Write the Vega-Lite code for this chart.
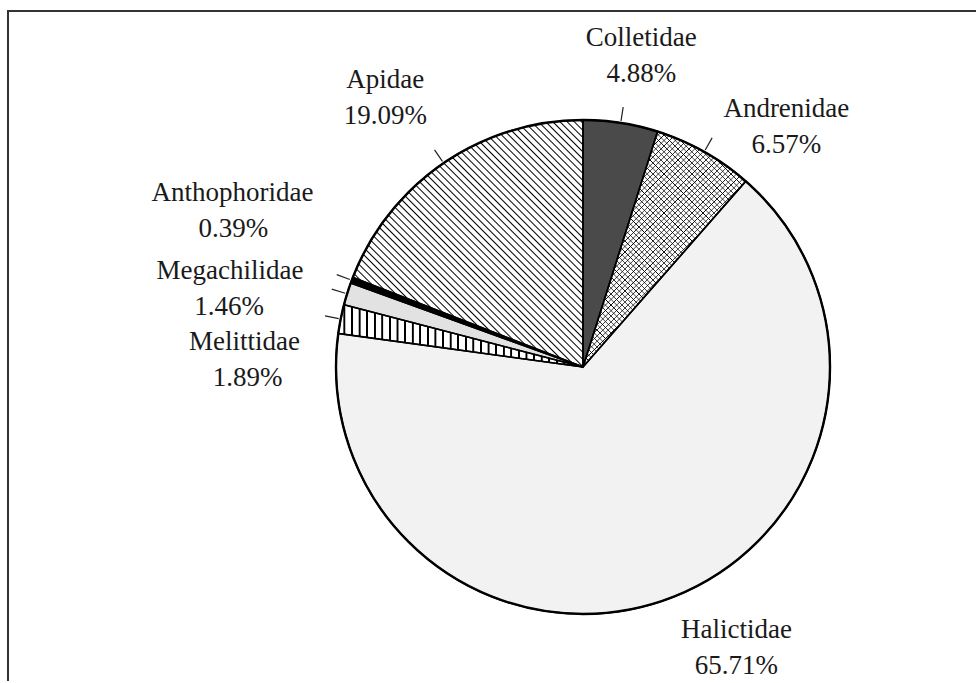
{
  "$schema": "https://vega.github.io/schema/vega-lite/v6.json",
  "width": 968,
  "height": 672,
  "autosize": "none",
  "padding": {"left": 8, "top": 11, "right": 0, "bottom": 0},
  "background": "white",
  "config": {"view": {"stroke": null}},
  "data": {"values": [
    {"Family": "Colletidae", "pct": 0.0488, "rank": 1},
    {"Family": "Andrenidae", "pct": 0.0657, "rank": 2},
    {"Family": "Halictidae", "pct": 0.6571, "rank": 3},
    {"Family": "Melittidae", "pct": 0.0189, "rank": 4},
    {"Family": "Megachilidae", "pct": 0.0146, "rank": 5},
    {"Family": "Anthophoridae", "pct": 0.0039, "rank": 6},
    {"Family": "Apidae", "pct": 0.1909, "rank": 7}
  ]},
  "layer": [
    {
      "transform": [{"filter": "datum.rank === 1"}],
      "mark": {"type": "rect", "fill": "white", "fillOpacity": 0, "stroke": "#333333", "strokeWidth": 2, "strokeDash": [968, 1642, 800]},
      "encoding": {}
    },
    {
      "mark": {"type": "arc", "outerRadius": 247, "strokeWidth": 0, "xOffset": 91, "yOffset": 20},
      "encoding": {
        "theta": {"field": "pct", "type": "quantitative", "stack": true},
        "order": {"field": "rank", "type": "quantitative"},
        "color": {
          "field": "Family", "type": "nominal", "legend": null,
          "scale": {
            "domain": ["Colletidae", "Andrenidae", "Halictidae", "Melittidae", "Megachilidae", "Anthophoridae", "Apidae"],
            "range": ["#4a4a4a", "#ffffff", "#f2f2f2", "#ffffff", "#e2e2e2", "#000000", "#ffffff"]
          }
        }
      }
    },
    {
      "mark": {
        "type": "arc", "outerRadius": 247, "strokeWidth": 0, "xOffset": 91, "yOffset": 20,
        "fill": {"gradient": "linear", "x1": 0, "y1": 1, "x2": 0.9636, "y2": -0.034, "stops": [
          {"offset": 0, "color": "#fff"}, {"offset": 0.003, "color": "#000"}, {"offset": 0.006, "color": "#fff"},
          {"offset": 0.015, "color": "#fff"}, {"offset": 0.018, "color": "#000"}, {"offset": 0.021, "color": "#fff"},
          {"offset": 0.03, "color": "#fff"}, {"offset": 0.033, "color": "#000"}, {"offset": 0.036, "color": "#fff"},
          {"offset": 0.045, "color": "#fff"}, {"offset": 0.048, "color": "#000"}, {"offset": 0.051, "color": "#fff"},
          {"offset": 0.06, "color": "#fff"}, {"offset": 0.063, "color": "#000"}, {"offset": 0.066, "color": "#fff"},
          {"offset": 0.075, "color": "#fff"}, {"offset": 0.078, "color": "#000"}, {"offset": 0.081, "color": "#fff"},
          {"offset": 0.09, "color": "#fff"}, {"offset": 0.093, "color": "#000"}, {"offset": 0.096, "color": "#fff"},
          {"offset": 0.105, "color": "#fff"}, {"offset": 0.108, "color": "#000"}, {"offset": 0.111, "color": "#fff"},
          {"offset": 0.12, "color": "#fff"}, {"offset": 0.123, "color": "#000"}, {"offset": 0.126, "color": "#fff"},
          {"offset": 0.135, "color": "#fff"}, {"offset": 0.138, "color": "#000"}, {"offset": 0.141, "color": "#fff"},
          {"offset": 0.15, "color": "#fff"}, {"offset": 0.153, "color": "#000"}, {"offset": 0.156, "color": "#fff"},
          {"offset": 0.165, "color": "#fff"}, {"offset": 0.168, "color": "#000"}, {"offset": 0.171, "color": "#fff"},
          {"offset": 0.18, "color": "#fff"}, {"offset": 0.183, "color": "#000"}, {"offset": 0.186, "color": "#fff"},
          {"offset": 0.195, "color": "#fff"}, {"offset": 0.198, "color": "#000"}, {"offset": 0.201, "color": "#fff"},
          {"offset": 0.21, "color": "#fff"}, {"offset": 0.213, "color": "#000"}, {"offset": 0.216, "color": "#fff"},
          {"offset": 0.225, "color": "#fff"}, {"offset": 0.228, "color": "#000"}, {"offset": 0.231, "color": "#fff"},
          {"offset": 0.24, "color": "#fff"}, {"offset": 0.243, "color": "#000"}, {"offset": 0.246, "color": "#fff"},
          {"offset": 0.255, "color": "#fff"}, {"offset": 0.258, "color": "#000"}, {"offset": 0.261, "color": "#fff"},
          {"offset": 0.27, "color": "#fff"}, {"offset": 0.273, "color": "#000"}, {"offset": 0.276, "color": "#fff"},
          {"offset": 0.285, "color": "#fff"}, {"offset": 0.288, "color": "#000"}, {"offset": 0.291, "color": "#fff"},
          {"offset": 0.3, "color": "#fff"}, {"offset": 0.303, "color": "#000"}, {"offset": 0.306, "color": "#fff"},
          {"offset": 0.315, "color": "#fff"}, {"offset": 0.318, "color": "#000"}, {"offset": 0.321, "color": "#fff"},
          {"offset": 0.33, "color": "#fff"}, {"offset": 0.333, "color": "#000"}, {"offset": 0.336, "color": "#fff"},
          {"offset": 0.345, "color": "#fff"}, {"offset": 0.348, "color": "#000"}, {"offset": 0.351, "color": "#fff"},
          {"offset": 0.36, "color": "#fff"}, {"offset": 0.363, "color": "#000"}, {"offset": 0.366, "color": "#fff"},
          {"offset": 0.375, "color": "#fff"}, {"offset": 0.378, "color": "#000"}, {"offset": 0.381, "color": "#fff"},
          {"offset": 0.39, "color": "#fff"}, {"offset": 0.393, "color": "#000"}, {"offset": 0.396, "color": "#fff"},
          {"offset": 0.405, "color": "#fff"}, {"offset": 0.408, "color": "#000"}, {"offset": 0.411, "color": "#fff"},
          {"offset": 0.42, "color": "#fff"}, {"offset": 0.423, "color": "#000"}, {"offset": 0.426, "color": "#fff"},
          {"offset": 0.435, "color": "#fff"}, {"offset": 0.438, "color": "#000"}, {"offset": 0.441, "color": "#fff"},
          {"offset": 0.45, "color": "#fff"}, {"offset": 0.453, "color": "#000"}, {"offset": 0.456, "color": "#fff"},
          {"offset": 0.465, "color": "#fff"}, {"offset": 0.468, "color": "#000"}, {"offset": 0.471, "color": "#fff"},
          {"offset": 0.48, "color": "#fff"}, {"offset": 0.483, "color": "#000"}, {"offset": 0.486, "color": "#fff"},
          {"offset": 0.495, "color": "#fff"}, {"offset": 0.498, "color": "#000"}, {"offset": 0.501, "color": "#fff"},
          {"offset": 0.51, "color": "#fff"}, {"offset": 0.513, "color": "#000"}, {"offset": 0.516, "color": "#fff"},
          {"offset": 0.525, "color": "#fff"}, {"offset": 0.528, "color": "#000"}, {"offset": 0.531, "color": "#fff"},
          {"offset": 0.54, "color": "#fff"}, {"offset": 0.543, "color": "#000"}, {"offset": 0.546, "color": "#fff"},
          {"offset": 0.555, "color": "#fff"}, {"offset": 0.558, "color": "#000"}, {"offset": 0.561, "color": "#fff"},
          {"offset": 0.57, "color": "#fff"}, {"offset": 0.573, "color": "#000"}, {"offset": 0.576, "color": "#fff"},
          {"offset": 0.585, "color": "#fff"}, {"offset": 0.588, "color": "#000"}, {"offset": 0.591, "color": "#fff"},
          {"offset": 0.6, "color": "#fff"}, {"offset": 0.603, "color": "#000"}, {"offset": 0.606, "color": "#fff"},
          {"offset": 0.615, "color": "#fff"}, {"offset": 0.618, "color": "#000"}, {"offset": 0.621, "color": "#fff"},
          {"offset": 0.63, "color": "#fff"}, {"offset": 0.633, "color": "#000"}, {"offset": 0.636, "color": "#fff"},
          {"offset": 0.645, "color": "#fff"}, {"offset": 0.648, "color": "#000"}, {"offset": 0.651, "color": "#fff"},
          {"offset": 0.66, "color": "#fff"}, {"offset": 0.663, "color": "#000"}, {"offset": 0.666, "color": "#fff"},
          {"offset": 0.675, "color": "#fff"}, {"offset": 0.678, "color": "#000"}, {"offset": 0.681, "color": "#fff"},
          {"offset": 0.69, "color": "#fff"}, {"offset": 0.693, "color": "#000"}, {"offset": 0.696, "color": "#fff"},
          {"offset": 0.705, "color": "#fff"}, {"offset": 0.708, "color": "#000"}, {"offset": 0.711, "color": "#fff"},
          {"offset": 0.72, "color": "#fff"}, {"offset": 0.723, "color": "#000"}, {"offset": 0.726, "color": "#fff"},
          {"offset": 0.735, "color": "#fff"}, {"offset": 0.738, "color": "#000"}, {"offset": 0.741, "color": "#fff"},
          {"offset": 0.75, "color": "#fff"}, {"offset": 0.753, "color": "#000"}, {"offset": 0.756, "color": "#fff"},
          {"offset": 0.765, "color": "#fff"}, {"offset": 0.768, "color": "#000"}, {"offset": 0.771, "color": "#fff"},
          {"offset": 0.78, "color": "#fff"}, {"offset": 0.783, "color": "#000"}, {"offset": 0.786, "color": "#fff"},
          {"offset": 0.795, "color": "#fff"}, {"offset": 0.798, "color": "#000"}, {"offset": 0.801, "color": "#fff"},
          {"offset": 0.81, "color": "#fff"}, {"offset": 0.813, "color": "#000"}, {"offset": 0.816, "color": "#fff"},
          {"offset": 0.825, "color": "#fff"}, {"offset": 0.828, "color": "#000"}, {"offset": 0.831, "color": "#fff"},
          {"offset": 0.84, "color": "#fff"}, {"offset": 0.843, "color": "#000"}, {"offset": 0.846, "color": "#fff"},
          {"offset": 0.855, "color": "#fff"}, {"offset": 0.858, "color": "#000"}, {"offset": 0.861, "color": "#fff"},
          {"offset": 0.87, "color": "#fff"}, {"offset": 0.873, "color": "#000"}, {"offset": 0.876, "color": "#fff"},
          {"offset": 0.885, "color": "#fff"}, {"offset": 0.888, "color": "#000"}, {"offset": 0.891, "color": "#fff"},
          {"offset": 0.9, "color": "#fff"}, {"offset": 0.903, "color": "#000"}, {"offset": 0.906, "color": "#fff"},
          {"offset": 0.915, "color": "#fff"}, {"offset": 0.918, "color": "#000"}, {"offset": 0.921, "color": "#fff"},
          {"offset": 0.93, "color": "#fff"}, {"offset": 0.933, "color": "#000"}, {"offset": 0.936, "color": "#fff"},
          {"offset": 0.945, "color": "#fff"}, {"offset": 0.948, "color": "#000"}, {"offset": 0.951, "color": "#fff"},
          {"offset": 0.96, "color": "#fff"}, {"offset": 0.963, "color": "#000"}, {"offset": 0.966, "color": "#fff"},
          {"offset": 0.975, "color": "#fff"}, {"offset": 0.978, "color": "#000"}, {"offset": 0.981, "color": "#fff"},
          {"offset": 0.99, "color": "#fff"}, {"offset": 0.993, "color": "#000"}, {"offset": 0.996, "color": "#fff"},
          {"offset": 1, "color": "#fff"}
        ]}
      },
      "encoding": {
        "theta": {"field": "pct", "type": "quantitative", "stack": true},
        "order": {"field": "rank", "type": "quantitative"},
        "opacity": {"condition": {"test": "datum.Family === 'Apidae'", "value": 1}, "value": 0}
      }
    },
    {
      "mark": {
        "type": "arc", "outerRadius": 247, "strokeWidth": 0, "xOffset": 91, "yOffset": 20,
        "fill": {"gradient": "linear", "x1": 0, "y1": 0, "x2": 1, "y2": 0, "stops": [
          {"offset": 0, "color": "#fff"},
          {"offset": 0.02, "color": "#fff"}, {"offset": 0.022, "color": "#000"}, {"offset": 0.028, "color": "#000"}, {"offset": 0.03, "color": "#fff"},
          {"offset": 0.051, "color": "#fff"}, {"offset": 0.053, "color": "#000"}, {"offset": 0.059, "color": "#000"}, {"offset": 0.061, "color": "#fff"},
          {"offset": 0.082, "color": "#fff"}, {"offset": 0.084, "color": "#000"}, {"offset": 0.09, "color": "#000"}, {"offset": 0.092, "color": "#fff"},
          {"offset": 0.113, "color": "#fff"}, {"offset": 0.115, "color": "#000"}, {"offset": 0.121, "color": "#000"}, {"offset": 0.123, "color": "#fff"},
          {"offset": 0.144, "color": "#fff"}, {"offset": 0.146, "color": "#000"}, {"offset": 0.152, "color": "#000"}, {"offset": 0.154, "color": "#fff"},
          {"offset": 0.175, "color": "#fff"}, {"offset": 0.177, "color": "#000"}, {"offset": 0.183, "color": "#000"}, {"offset": 0.185, "color": "#fff"},
          {"offset": 0.206, "color": "#fff"}, {"offset": 0.208, "color": "#000"}, {"offset": 0.214, "color": "#000"}, {"offset": 0.216, "color": "#fff"},
          {"offset": 0.237, "color": "#fff"}, {"offset": 0.239, "color": "#000"}, {"offset": 0.245, "color": "#000"}, {"offset": 0.247, "color": "#fff"},
          {"offset": 0.268, "color": "#fff"}, {"offset": 0.27, "color": "#000"}, {"offset": 0.276, "color": "#000"}, {"offset": 0.278, "color": "#fff"},
          {"offset": 0.299, "color": "#fff"}, {"offset": 0.301, "color": "#000"}, {"offset": 0.307, "color": "#000"}, {"offset": 0.309, "color": "#fff"},
          {"offset": 0.33, "color": "#fff"}, {"offset": 0.332, "color": "#000"}, {"offset": 0.338, "color": "#000"}, {"offset": 0.34, "color": "#fff"},
          {"offset": 0.361, "color": "#fff"}, {"offset": 0.363, "color": "#000"}, {"offset": 0.369, "color": "#000"}, {"offset": 0.371, "color": "#fff"},
          {"offset": 0.392, "color": "#fff"}, {"offset": 0.394, "color": "#000"}, {"offset": 0.4, "color": "#000"}, {"offset": 0.402, "color": "#fff"},
          {"offset": 0.423, "color": "#fff"}, {"offset": 0.425, "color": "#000"}, {"offset": 0.431, "color": "#000"}, {"offset": 0.433, "color": "#fff"},
          {"offset": 0.454, "color": "#fff"}, {"offset": 0.456, "color": "#000"}, {"offset": 0.462, "color": "#000"}, {"offset": 0.464, "color": "#fff"},
          {"offset": 0.485, "color": "#fff"}, {"offset": 0.487, "color": "#000"}, {"offset": 0.493, "color": "#000"}, {"offset": 0.495, "color": "#fff"},
          {"offset": 0.516, "color": "#fff"}, {"offset": 0.518, "color": "#000"}, {"offset": 0.524, "color": "#000"}, {"offset": 0.526, "color": "#fff"},
          {"offset": 0.547, "color": "#fff"}, {"offset": 0.549, "color": "#000"}, {"offset": 0.555, "color": "#000"}, {"offset": 0.557, "color": "#fff"},
          {"offset": 0.578, "color": "#fff"}, {"offset": 0.58, "color": "#000"}, {"offset": 0.586, "color": "#000"}, {"offset": 0.588, "color": "#fff"},
          {"offset": 0.609, "color": "#fff"}, {"offset": 0.611, "color": "#000"}, {"offset": 0.617, "color": "#000"}, {"offset": 0.619, "color": "#fff"},
          {"offset": 0.64, "color": "#fff"}, {"offset": 0.642, "color": "#000"}, {"offset": 0.648, "color": "#000"}, {"offset": 0.65, "color": "#fff"},
          {"offset": 0.671, "color": "#fff"}, {"offset": 0.673, "color": "#000"}, {"offset": 0.679, "color": "#000"}, {"offset": 0.681, "color": "#fff"},
          {"offset": 0.702, "color": "#fff"}, {"offset": 0.704, "color": "#000"}, {"offset": 0.71, "color": "#000"}, {"offset": 0.712, "color": "#fff"},
          {"offset": 0.733, "color": "#fff"}, {"offset": 0.735, "color": "#000"}, {"offset": 0.741, "color": "#000"}, {"offset": 0.743, "color": "#fff"},
          {"offset": 0.764, "color": "#fff"}, {"offset": 0.766, "color": "#000"}, {"offset": 0.772, "color": "#000"}, {"offset": 0.774, "color": "#fff"},
          {"offset": 0.795, "color": "#fff"}, {"offset": 0.797, "color": "#000"}, {"offset": 0.803, "color": "#000"}, {"offset": 0.805, "color": "#fff"},
          {"offset": 0.826, "color": "#fff"}, {"offset": 0.828, "color": "#000"}, {"offset": 0.834, "color": "#000"}, {"offset": 0.836, "color": "#fff"},
          {"offset": 0.857, "color": "#fff"}, {"offset": 0.859, "color": "#000"}, {"offset": 0.865, "color": "#000"}, {"offset": 0.867, "color": "#fff"},
          {"offset": 0.888, "color": "#fff"}, {"offset": 0.89, "color": "#000"}, {"offset": 0.896, "color": "#000"}, {"offset": 0.898, "color": "#fff"},
          {"offset": 0.919, "color": "#fff"}, {"offset": 0.921, "color": "#000"}, {"offset": 0.927, "color": "#000"}, {"offset": 0.929, "color": "#fff"},
          {"offset": 0.95, "color": "#fff"}, {"offset": 0.952, "color": "#000"}, {"offset": 0.958, "color": "#000"}, {"offset": 0.96, "color": "#fff"},
          {"offset": 0.981, "color": "#fff"}, {"offset": 0.983, "color": "#000"}, {"offset": 0.989, "color": "#000"}, {"offset": 0.991, "color": "#fff"},
          {"offset": 1, "color": "#fff"}
        ]}
      },
      "encoding": {
        "theta": {"field": "pct", "type": "quantitative", "stack": true},
        "order": {"field": "rank", "type": "quantitative"},
        "opacity": {"condition": {"test": "datum.Family === 'Melittidae'", "value": 1}, "value": 0}
      }
    },
    {
      "mark": {
        "type": "arc", "outerRadius": 247, "strokeWidth": 0, "xOffset": 91, "yOffset": 20,
        "fill": {"gradient": "linear", "x1": 0, "y1": 1, "x2": 0.7912, "y2": -0.1445, "stops": [
          {"offset": 0, "color": "rgba(0,0,0,0)"}, {"offset": 0.002, "color": "rgba(0,0,0,1)"}, {"offset": 0.004, "color": "rgba(0,0,0,0)"},
          {"offset": 0.014, "color": "rgba(0,0,0,0)"}, {"offset": 0.016, "color": "rgba(0,0,0,1)"}, {"offset": 0.018, "color": "rgba(0,0,0,0)"},
          {"offset": 0.028, "color": "rgba(0,0,0,0)"}, {"offset": 0.03, "color": "rgba(0,0,0,1)"}, {"offset": 0.032, "color": "rgba(0,0,0,0)"},
          {"offset": 0.042, "color": "rgba(0,0,0,0)"}, {"offset": 0.044, "color": "rgba(0,0,0,1)"}, {"offset": 0.046, "color": "rgba(0,0,0,0)"},
          {"offset": 0.056, "color": "rgba(0,0,0,0)"}, {"offset": 0.058, "color": "rgba(0,0,0,1)"}, {"offset": 0.06, "color": "rgba(0,0,0,0)"},
          {"offset": 0.07, "color": "rgba(0,0,0,0)"}, {"offset": 0.072, "color": "rgba(0,0,0,1)"}, {"offset": 0.074, "color": "rgba(0,0,0,0)"},
          {"offset": 0.084, "color": "rgba(0,0,0,0)"}, {"offset": 0.086, "color": "rgba(0,0,0,1)"}, {"offset": 0.088, "color": "rgba(0,0,0,0)"},
          {"offset": 0.098, "color": "rgba(0,0,0,0)"}, {"offset": 0.1, "color": "rgba(0,0,0,1)"}, {"offset": 0.102, "color": "rgba(0,0,0,0)"},
          {"offset": 0.112, "color": "rgba(0,0,0,0)"}, {"offset": 0.114, "color": "rgba(0,0,0,1)"}, {"offset": 0.116, "color": "rgba(0,0,0,0)"},
          {"offset": 0.126, "color": "rgba(0,0,0,0)"}, {"offset": 0.128, "color": "rgba(0,0,0,1)"}, {"offset": 0.13, "color": "rgba(0,0,0,0)"},
          {"offset": 0.14, "color": "rgba(0,0,0,0)"}, {"offset": 0.142, "color": "rgba(0,0,0,1)"}, {"offset": 0.144, "color": "rgba(0,0,0,0)"},
          {"offset": 0.154, "color": "rgba(0,0,0,0)"}, {"offset": 0.156, "color": "rgba(0,0,0,1)"}, {"offset": 0.158, "color": "rgba(0,0,0,0)"},
          {"offset": 0.168, "color": "rgba(0,0,0,0)"}, {"offset": 0.17, "color": "rgba(0,0,0,1)"}, {"offset": 0.172, "color": "rgba(0,0,0,0)"},
          {"offset": 0.182, "color": "rgba(0,0,0,0)"}, {"offset": 0.184, "color": "rgba(0,0,0,1)"}, {"offset": 0.186, "color": "rgba(0,0,0,0)"},
          {"offset": 0.196, "color": "rgba(0,0,0,0)"}, {"offset": 0.198, "color": "rgba(0,0,0,1)"}, {"offset": 0.2, "color": "rgba(0,0,0,0)"},
          {"offset": 0.21, "color": "rgba(0,0,0,0)"}, {"offset": 0.212, "color": "rgba(0,0,0,1)"}, {"offset": 0.214, "color": "rgba(0,0,0,0)"},
          {"offset": 0.224, "color": "rgba(0,0,0,0)"}, {"offset": 0.226, "color": "rgba(0,0,0,1)"}, {"offset": 0.228, "color": "rgba(0,0,0,0)"},
          {"offset": 0.238, "color": "rgba(0,0,0,0)"}, {"offset": 0.24, "color": "rgba(0,0,0,1)"}, {"offset": 0.242, "color": "rgba(0,0,0,0)"},
          {"offset": 0.252, "color": "rgba(0,0,0,0)"}, {"offset": 0.254, "color": "rgba(0,0,0,1)"}, {"offset": 0.256, "color": "rgba(0,0,0,0)"},
          {"offset": 0.266, "color": "rgba(0,0,0,0)"}, {"offset": 0.268, "color": "rgba(0,0,0,1)"}, {"offset": 0.27, "color": "rgba(0,0,0,0)"},
          {"offset": 0.28, "color": "rgba(0,0,0,0)"}, {"offset": 0.282, "color": "rgba(0,0,0,1)"}, {"offset": 0.284, "color": "rgba(0,0,0,0)"},
          {"offset": 0.294, "color": "rgba(0,0,0,0)"}, {"offset": 0.296, "color": "rgba(0,0,0,1)"}, {"offset": 0.298, "color": "rgba(0,0,0,0)"},
          {"offset": 0.308, "color": "rgba(0,0,0,0)"}, {"offset": 0.31, "color": "rgba(0,0,0,1)"}, {"offset": 0.312, "color": "rgba(0,0,0,0)"},
          {"offset": 0.322, "color": "rgba(0,0,0,0)"}, {"offset": 0.324, "color": "rgba(0,0,0,1)"}, {"offset": 0.326, "color": "rgba(0,0,0,0)"},
          {"offset": 0.336, "color": "rgba(0,0,0,0)"}, {"offset": 0.338, "color": "rgba(0,0,0,1)"}, {"offset": 0.34, "color": "rgba(0,0,0,0)"},
          {"offset": 0.35, "color": "rgba(0,0,0,0)"}, {"offset": 0.352, "color": "rgba(0,0,0,1)"}, {"offset": 0.354, "color": "rgba(0,0,0,0)"},
          {"offset": 0.364, "color": "rgba(0,0,0,0)"}, {"offset": 0.366, "color": "rgba(0,0,0,1)"}, {"offset": 0.368, "color": "rgba(0,0,0,0)"},
          {"offset": 0.378, "color": "rgba(0,0,0,0)"}, {"offset": 0.38, "color": "rgba(0,0,0,1)"}, {"offset": 0.382, "color": "rgba(0,0,0,0)"},
          {"offset": 0.392, "color": "rgba(0,0,0,0)"}, {"offset": 0.394, "color": "rgba(0,0,0,1)"}, {"offset": 0.396, "color": "rgba(0,0,0,0)"},
          {"offset": 0.406, "color": "rgba(0,0,0,0)"}, {"offset": 0.408, "color": "rgba(0,0,0,1)"}, {"offset": 0.41, "color": "rgba(0,0,0,0)"},
          {"offset": 0.42, "color": "rgba(0,0,0,0)"}, {"offset": 0.422, "color": "rgba(0,0,0,1)"}, {"offset": 0.424, "color": "rgba(0,0,0,0)"},
          {"offset": 0.434, "color": "rgba(0,0,0,0)"}, {"offset": 0.436, "color": "rgba(0,0,0,1)"}, {"offset": 0.438, "color": "rgba(0,0,0,0)"},
          {"offset": 0.448, "color": "rgba(0,0,0,0)"}, {"offset": 0.45, "color": "rgba(0,0,0,1)"}, {"offset": 0.452, "color": "rgba(0,0,0,0)"},
          {"offset": 0.462, "color": "rgba(0,0,0,0)"}, {"offset": 0.464, "color": "rgba(0,0,0,1)"}, {"offset": 0.466, "color": "rgba(0,0,0,0)"},
          {"offset": 0.476, "color": "rgba(0,0,0,0)"}, {"offset": 0.478, "color": "rgba(0,0,0,1)"}, {"offset": 0.48, "color": "rgba(0,0,0,0)"},
          {"offset": 0.49, "color": "rgba(0,0,0,0)"}, {"offset": 0.492, "color": "rgba(0,0,0,1)"}, {"offset": 0.494, "color": "rgba(0,0,0,0)"},
          {"offset": 0.504, "color": "rgba(0,0,0,0)"}, {"offset": 0.506, "color": "rgba(0,0,0,1)"}, {"offset": 0.508, "color": "rgba(0,0,0,0)"},
          {"offset": 0.518, "color": "rgba(0,0,0,0)"}, {"offset": 0.52, "color": "rgba(0,0,0,1)"}, {"offset": 0.522, "color": "rgba(0,0,0,0)"},
          {"offset": 0.532, "color": "rgba(0,0,0,0)"}, {"offset": 0.534, "color": "rgba(0,0,0,1)"}, {"offset": 0.536, "color": "rgba(0,0,0,0)"},
          {"offset": 0.546, "color": "rgba(0,0,0,0)"}, {"offset": 0.548, "color": "rgba(0,0,0,1)"}, {"offset": 0.55, "color": "rgba(0,0,0,0)"},
          {"offset": 0.56, "color": "rgba(0,0,0,0)"}, {"offset": 0.562, "color": "rgba(0,0,0,1)"}, {"offset": 0.564, "color": "rgba(0,0,0,0)"},
          {"offset": 0.574, "color": "rgba(0,0,0,0)"}, {"offset": 0.576, "color": "rgba(0,0,0,1)"}, {"offset": 0.578, "color": "rgba(0,0,0,0)"},
          {"offset": 0.588, "color": "rgba(0,0,0,0)"}, {"offset": 0.59, "color": "rgba(0,0,0,1)"}, {"offset": 0.592, "color": "rgba(0,0,0,0)"},
          {"offset": 0.602, "color": "rgba(0,0,0,0)"}, {"offset": 0.604, "color": "rgba(0,0,0,1)"}, {"offset": 0.606, "color": "rgba(0,0,0,0)"},
          {"offset": 0.616, "color": "rgba(0,0,0,0)"}, {"offset": 0.618, "color": "rgba(0,0,0,1)"}, {"offset": 0.62, "color": "rgba(0,0,0,0)"},
          {"offset": 0.63, "color": "rgba(0,0,0,0)"}, {"offset": 0.632, "color": "rgba(0,0,0,1)"}, {"offset": 0.634, "color": "rgba(0,0,0,0)"},
          {"offset": 0.644, "color": "rgba(0,0,0,0)"}, {"offset": 0.646, "color": "rgba(0,0,0,1)"}, {"offset": 0.648, "color": "rgba(0,0,0,0)"},
          {"offset": 0.658, "color": "rgba(0,0,0,0)"}, {"offset": 0.66, "color": "rgba(0,0,0,1)"}, {"offset": 0.662, "color": "rgba(0,0,0,0)"},
          {"offset": 0.672, "color": "rgba(0,0,0,0)"}, {"offset": 0.674, "color": "rgba(0,0,0,1)"}, {"offset": 0.676, "color": "rgba(0,0,0,0)"},
          {"offset": 0.686, "color": "rgba(0,0,0,0)"}, {"offset": 0.688, "color": "rgba(0,0,0,1)"}, {"offset": 0.69, "color": "rgba(0,0,0,0)"},
          {"offset": 0.7, "color": "rgba(0,0,0,0)"}, {"offset": 0.702, "color": "rgba(0,0,0,1)"}, {"offset": 0.704, "color": "rgba(0,0,0,0)"},
          {"offset": 0.714, "color": "rgba(0,0,0,0)"}, {"offset": 0.716, "color": "rgba(0,0,0,1)"}, {"offset": 0.718, "color": "rgba(0,0,0,0)"},
          {"offset": 0.728, "color": "rgba(0,0,0,0)"}, {"offset": 0.73, "color": "rgba(0,0,0,1)"}, {"offset": 0.732, "color": "rgba(0,0,0,0)"},
          {"offset": 0.742, "color": "rgba(0,0,0,0)"}, {"offset": 0.744, "color": "rgba(0,0,0,1)"}, {"offset": 0.746, "color": "rgba(0,0,0,0)"},
          {"offset": 0.756, "color": "rgba(0,0,0,0)"}, {"offset": 0.758, "color": "rgba(0,0,0,1)"}, {"offset": 0.76, "color": "rgba(0,0,0,0)"},
          {"offset": 0.77, "color": "rgba(0,0,0,0)"}, {"offset": 0.772, "color": "rgba(0,0,0,1)"}, {"offset": 0.774, "color": "rgba(0,0,0,0)"},
          {"offset": 0.784, "color": "rgba(0,0,0,0)"}, {"offset": 0.786, "color": "rgba(0,0,0,1)"}, {"offset": 0.788, "color": "rgba(0,0,0,0)"},
          {"offset": 0.798, "color": "rgba(0,0,0,0)"}, {"offset": 0.8, "color": "rgba(0,0,0,1)"}, {"offset": 0.802, "color": "rgba(0,0,0,0)"},
          {"offset": 0.812, "color": "rgba(0,0,0,0)"}, {"offset": 0.814, "color": "rgba(0,0,0,1)"}, {"offset": 0.816, "color": "rgba(0,0,0,0)"},
          {"offset": 0.826, "color": "rgba(0,0,0,0)"}, {"offset": 0.828, "color": "rgba(0,0,0,1)"}, {"offset": 0.83, "color": "rgba(0,0,0,0)"},
          {"offset": 0.84, "color": "rgba(0,0,0,0)"}, {"offset": 0.842, "color": "rgba(0,0,0,1)"}, {"offset": 0.844, "color": "rgba(0,0,0,0)"},
          {"offset": 0.854, "color": "rgba(0,0,0,0)"}, {"offset": 0.856, "color": "rgba(0,0,0,1)"}, {"offset": 0.858, "color": "rgba(0,0,0,0)"},
          {"offset": 0.868, "color": "rgba(0,0,0,0)"}, {"offset": 0.87, "color": "rgba(0,0,0,1)"}, {"offset": 0.872, "color": "rgba(0,0,0,0)"},
          {"offset": 0.882, "color": "rgba(0,0,0,0)"}, {"offset": 0.884, "color": "rgba(0,0,0,1)"}, {"offset": 0.886, "color": "rgba(0,0,0,0)"},
          {"offset": 0.896, "color": "rgba(0,0,0,0)"}, {"offset": 0.898, "color": "rgba(0,0,0,1)"}, {"offset": 0.9, "color": "rgba(0,0,0,0)"},
          {"offset": 0.91, "color": "rgba(0,0,0,0)"}, {"offset": 0.912, "color": "rgba(0,0,0,1)"}, {"offset": 0.914, "color": "rgba(0,0,0,0)"},
          {"offset": 0.924, "color": "rgba(0,0,0,0)"}, {"offset": 0.926, "color": "rgba(0,0,0,1)"}, {"offset": 0.928, "color": "rgba(0,0,0,0)"},
          {"offset": 0.938, "color": "rgba(0,0,0,0)"}, {"offset": 0.94, "color": "rgba(0,0,0,1)"}, {"offset": 0.942, "color": "rgba(0,0,0,0)"},
          {"offset": 0.952, "color": "rgba(0,0,0,0)"}, {"offset": 0.954, "color": "rgba(0,0,0,1)"}, {"offset": 0.956, "color": "rgba(0,0,0,0)"},
          {"offset": 0.966, "color": "rgba(0,0,0,0)"}, {"offset": 0.968, "color": "rgba(0,0,0,1)"}, {"offset": 0.97, "color": "rgba(0,0,0,0)"},
          {"offset": 0.98, "color": "rgba(0,0,0,0)"}, {"offset": 0.982, "color": "rgba(0,0,0,1)"}, {"offset": 0.984, "color": "rgba(0,0,0,0)"},
          {"offset": 0.994, "color": "rgba(0,0,0,0)"}, {"offset": 0.996, "color": "rgba(0,0,0,1)"}, {"offset": 0.998, "color": "rgba(0,0,0,0)"},
          {"offset": 1, "color": "rgba(0,0,0,0)"}
        ]}
      },
      "encoding": {
        "theta": {"field": "pct", "type": "quantitative", "stack": true},
        "order": {"field": "rank", "type": "quantitative"},
        "opacity": {"condition": {"test": "datum.Family === 'Andrenidae'", "value": 1}, "value": 0}
      }
    },
    {
      "mark": {
        "type": "arc", "outerRadius": 247, "strokeWidth": 0, "xOffset": 91, "yOffset": 20,
        "fill": {"gradient": "linear", "x1": 0, "y1": 0, "x2": 0.7912, "y2": 1.1445, "stops": [
          {"offset": 0, "color": "rgba(0,0,0,0)"}, {"offset": 0.002, "color": "rgba(0,0,0,1)"}, {"offset": 0.004, "color": "rgba(0,0,0,0)"},
          {"offset": 0.014, "color": "rgba(0,0,0,0)"}, {"offset": 0.016, "color": "rgba(0,0,0,1)"}, {"offset": 0.018, "color": "rgba(0,0,0,0)"},
          {"offset": 0.028, "color": "rgba(0,0,0,0)"}, {"offset": 0.03, "color": "rgba(0,0,0,1)"}, {"offset": 0.032, "color": "rgba(0,0,0,0)"},
          {"offset": 0.042, "color": "rgba(0,0,0,0)"}, {"offset": 0.044, "color": "rgba(0,0,0,1)"}, {"offset": 0.046, "color": "rgba(0,0,0,0)"},
          {"offset": 0.056, "color": "rgba(0,0,0,0)"}, {"offset": 0.058, "color": "rgba(0,0,0,1)"}, {"offset": 0.06, "color": "rgba(0,0,0,0)"},
          {"offset": 0.07, "color": "rgba(0,0,0,0)"}, {"offset": 0.072, "color": "rgba(0,0,0,1)"}, {"offset": 0.074, "color": "rgba(0,0,0,0)"},
          {"offset": 0.084, "color": "rgba(0,0,0,0)"}, {"offset": 0.086, "color": "rgba(0,0,0,1)"}, {"offset": 0.088, "color": "rgba(0,0,0,0)"},
          {"offset": 0.098, "color": "rgba(0,0,0,0)"}, {"offset": 0.1, "color": "rgba(0,0,0,1)"}, {"offset": 0.102, "color": "rgba(0,0,0,0)"},
          {"offset": 0.112, "color": "rgba(0,0,0,0)"}, {"offset": 0.114, "color": "rgba(0,0,0,1)"}, {"offset": 0.116, "color": "rgba(0,0,0,0)"},
          {"offset": 0.126, "color": "rgba(0,0,0,0)"}, {"offset": 0.128, "color": "rgba(0,0,0,1)"}, {"offset": 0.13, "color": "rgba(0,0,0,0)"},
          {"offset": 0.14, "color": "rgba(0,0,0,0)"}, {"offset": 0.142, "color": "rgba(0,0,0,1)"}, {"offset": 0.144, "color": "rgba(0,0,0,0)"},
          {"offset": 0.154, "color": "rgba(0,0,0,0)"}, {"offset": 0.156, "color": "rgba(0,0,0,1)"}, {"offset": 0.158, "color": "rgba(0,0,0,0)"},
          {"offset": 0.168, "color": "rgba(0,0,0,0)"}, {"offset": 0.17, "color": "rgba(0,0,0,1)"}, {"offset": 0.172, "color": "rgba(0,0,0,0)"},
          {"offset": 0.182, "color": "rgba(0,0,0,0)"}, {"offset": 0.184, "color": "rgba(0,0,0,1)"}, {"offset": 0.186, "color": "rgba(0,0,0,0)"},
          {"offset": 0.196, "color": "rgba(0,0,0,0)"}, {"offset": 0.198, "color": "rgba(0,0,0,1)"}, {"offset": 0.2, "color": "rgba(0,0,0,0)"},
          {"offset": 0.21, "color": "rgba(0,0,0,0)"}, {"offset": 0.212, "color": "rgba(0,0,0,1)"}, {"offset": 0.214, "color": "rgba(0,0,0,0)"},
          {"offset": 0.224, "color": "rgba(0,0,0,0)"}, {"offset": 0.226, "color": "rgba(0,0,0,1)"}, {"offset": 0.228, "color": "rgba(0,0,0,0)"},
          {"offset": 0.238, "color": "rgba(0,0,0,0)"}, {"offset": 0.24, "color": "rgba(0,0,0,1)"}, {"offset": 0.242, "color": "rgba(0,0,0,0)"},
          {"offset": 0.252, "color": "rgba(0,0,0,0)"}, {"offset": 0.254, "color": "rgba(0,0,0,1)"}, {"offset": 0.256, "color": "rgba(0,0,0,0)"},
          {"offset": 0.266, "color": "rgba(0,0,0,0)"}, {"offset": 0.268, "color": "rgba(0,0,0,1)"}, {"offset": 0.27, "color": "rgba(0,0,0,0)"},
          {"offset": 0.28, "color": "rgba(0,0,0,0)"}, {"offset": 0.282, "color": "rgba(0,0,0,1)"}, {"offset": 0.284, "color": "rgba(0,0,0,0)"},
          {"offset": 0.294, "color": "rgba(0,0,0,0)"}, {"offset": 0.296, "color": "rgba(0,0,0,1)"}, {"offset": 0.298, "color": "rgba(0,0,0,0)"},
          {"offset": 0.308, "color": "rgba(0,0,0,0)"}, {"offset": 0.31, "color": "rgba(0,0,0,1)"}, {"offset": 0.312, "color": "rgba(0,0,0,0)"},
          {"offset": 0.322, "color": "rgba(0,0,0,0)"}, {"offset": 0.324, "color": "rgba(0,0,0,1)"}, {"offset": 0.326, "color": "rgba(0,0,0,0)"},
          {"offset": 0.336, "color": "rgba(0,0,0,0)"}, {"offset": 0.338, "color": "rgba(0,0,0,1)"}, {"offset": 0.34, "color": "rgba(0,0,0,0)"},
          {"offset": 0.35, "color": "rgba(0,0,0,0)"}, {"offset": 0.352, "color": "rgba(0,0,0,1)"}, {"offset": 0.354, "color": "rgba(0,0,0,0)"},
          {"offset": 0.364, "color": "rgba(0,0,0,0)"}, {"offset": 0.366, "color": "rgba(0,0,0,1)"}, {"offset": 0.368, "color": "rgba(0,0,0,0)"},
          {"offset": 0.378, "color": "rgba(0,0,0,0)"}, {"offset": 0.38, "color": "rgba(0,0,0,1)"}, {"offset": 0.382, "color": "rgba(0,0,0,0)"},
          {"offset": 0.392, "color": "rgba(0,0,0,0)"}, {"offset": 0.394, "color": "rgba(0,0,0,1)"}, {"offset": 0.396, "color": "rgba(0,0,0,0)"},
          {"offset": 0.406, "color": "rgba(0,0,0,0)"}, {"offset": 0.408, "color": "rgba(0,0,0,1)"}, {"offset": 0.41, "color": "rgba(0,0,0,0)"},
          {"offset": 0.42, "color": "rgba(0,0,0,0)"}, {"offset": 0.422, "color": "rgba(0,0,0,1)"}, {"offset": 0.424, "color": "rgba(0,0,0,0)"},
          {"offset": 0.434, "color": "rgba(0,0,0,0)"}, {"offset": 0.436, "color": "rgba(0,0,0,1)"}, {"offset": 0.438, "color": "rgba(0,0,0,0)"},
          {"offset": 0.448, "color": "rgba(0,0,0,0)"}, {"offset": 0.45, "color": "rgba(0,0,0,1)"}, {"offset": 0.452, "color": "rgba(0,0,0,0)"},
          {"offset": 0.462, "color": "rgba(0,0,0,0)"}, {"offset": 0.464, "color": "rgba(0,0,0,1)"}, {"offset": 0.466, "color": "rgba(0,0,0,0)"},
          {"offset": 0.476, "color": "rgba(0,0,0,0)"}, {"offset": 0.478, "color": "rgba(0,0,0,1)"}, {"offset": 0.48, "color": "rgba(0,0,0,0)"},
          {"offset": 0.49, "color": "rgba(0,0,0,0)"}, {"offset": 0.492, "color": "rgba(0,0,0,1)"}, {"offset": 0.494, "color": "rgba(0,0,0,0)"},
          {"offset": 0.504, "color": "rgba(0,0,0,0)"}, {"offset": 0.506, "color": "rgba(0,0,0,1)"}, {"offset": 0.508, "color": "rgba(0,0,0,0)"},
          {"offset": 0.518, "color": "rgba(0,0,0,0)"}, {"offset": 0.52, "color": "rgba(0,0,0,1)"}, {"offset": 0.522, "color": "rgba(0,0,0,0)"},
          {"offset": 0.532, "color": "rgba(0,0,0,0)"}, {"offset": 0.534, "color": "rgba(0,0,0,1)"}, {"offset": 0.536, "color": "rgba(0,0,0,0)"},
          {"offset": 0.546, "color": "rgba(0,0,0,0)"}, {"offset": 0.548, "color": "rgba(0,0,0,1)"}, {"offset": 0.55, "color": "rgba(0,0,0,0)"},
          {"offset": 0.56, "color": "rgba(0,0,0,0)"}, {"offset": 0.562, "color": "rgba(0,0,0,1)"}, {"offset": 0.564, "color": "rgba(0,0,0,0)"},
          {"offset": 0.574, "color": "rgba(0,0,0,0)"}, {"offset": 0.576, "color": "rgba(0,0,0,1)"}, {"offset": 0.578, "color": "rgba(0,0,0,0)"},
          {"offset": 0.588, "color": "rgba(0,0,0,0)"}, {"offset": 0.59, "color": "rgba(0,0,0,1)"}, {"offset": 0.592, "color": "rgba(0,0,0,0)"},
          {"offset": 0.602, "color": "rgba(0,0,0,0)"}, {"offset": 0.604, "color": "rgba(0,0,0,1)"}, {"offset": 0.606, "color": "rgba(0,0,0,0)"},
          {"offset": 0.616, "color": "rgba(0,0,0,0)"}, {"offset": 0.618, "color": "rgba(0,0,0,1)"}, {"offset": 0.62, "color": "rgba(0,0,0,0)"},
          {"offset": 0.63, "color": "rgba(0,0,0,0)"}, {"offset": 0.632, "color": "rgba(0,0,0,1)"}, {"offset": 0.634, "color": "rgba(0,0,0,0)"},
          {"offset": 0.644, "color": "rgba(0,0,0,0)"}, {"offset": 0.646, "color": "rgba(0,0,0,1)"}, {"offset": 0.648, "color": "rgba(0,0,0,0)"},
          {"offset": 0.658, "color": "rgba(0,0,0,0)"}, {"offset": 0.66, "color": "rgba(0,0,0,1)"}, {"offset": 0.662, "color": "rgba(0,0,0,0)"},
          {"offset": 0.672, "color": "rgba(0,0,0,0)"}, {"offset": 0.674, "color": "rgba(0,0,0,1)"}, {"offset": 0.676, "color": "rgba(0,0,0,0)"},
          {"offset": 0.686, "color": "rgba(0,0,0,0)"}, {"offset": 0.688, "color": "rgba(0,0,0,1)"}, {"offset": 0.69, "color": "rgba(0,0,0,0)"},
          {"offset": 0.7, "color": "rgba(0,0,0,0)"}, {"offset": 0.702, "color": "rgba(0,0,0,1)"}, {"offset": 0.704, "color": "rgba(0,0,0,0)"},
          {"offset": 0.714, "color": "rgba(0,0,0,0)"}, {"offset": 0.716, "color": "rgba(0,0,0,1)"}, {"offset": 0.718, "color": "rgba(0,0,0,0)"},
          {"offset": 0.728, "color": "rgba(0,0,0,0)"}, {"offset": 0.73, "color": "rgba(0,0,0,1)"}, {"offset": 0.732, "color": "rgba(0,0,0,0)"},
          {"offset": 0.742, "color": "rgba(0,0,0,0)"}, {"offset": 0.744, "color": "rgba(0,0,0,1)"}, {"offset": 0.746, "color": "rgba(0,0,0,0)"},
          {"offset": 0.756, "color": "rgba(0,0,0,0)"}, {"offset": 0.758, "color": "rgba(0,0,0,1)"}, {"offset": 0.76, "color": "rgba(0,0,0,0)"},
          {"offset": 0.77, "color": "rgba(0,0,0,0)"}, {"offset": 0.772, "color": "rgba(0,0,0,1)"}, {"offset": 0.774, "color": "rgba(0,0,0,0)"},
          {"offset": 0.784, "color": "rgba(0,0,0,0)"}, {"offset": 0.786, "color": "rgba(0,0,0,1)"}, {"offset": 0.788, "color": "rgba(0,0,0,0)"},
          {"offset": 0.798, "color": "rgba(0,0,0,0)"}, {"offset": 0.8, "color": "rgba(0,0,0,1)"}, {"offset": 0.802, "color": "rgba(0,0,0,0)"},
          {"offset": 0.812, "color": "rgba(0,0,0,0)"}, {"offset": 0.814, "color": "rgba(0,0,0,1)"}, {"offset": 0.816, "color": "rgba(0,0,0,0)"},
          {"offset": 0.826, "color": "rgba(0,0,0,0)"}, {"offset": 0.828, "color": "rgba(0,0,0,1)"}, {"offset": 0.83, "color": "rgba(0,0,0,0)"},
          {"offset": 0.84, "color": "rgba(0,0,0,0)"}, {"offset": 0.842, "color": "rgba(0,0,0,1)"}, {"offset": 0.844, "color": "rgba(0,0,0,0)"},
          {"offset": 0.854, "color": "rgba(0,0,0,0)"}, {"offset": 0.856, "color": "rgba(0,0,0,1)"}, {"offset": 0.858, "color": "rgba(0,0,0,0)"},
          {"offset": 0.868, "color": "rgba(0,0,0,0)"}, {"offset": 0.87, "color": "rgba(0,0,0,1)"}, {"offset": 0.872, "color": "rgba(0,0,0,0)"},
          {"offset": 0.882, "color": "rgba(0,0,0,0)"}, {"offset": 0.884, "color": "rgba(0,0,0,1)"}, {"offset": 0.886, "color": "rgba(0,0,0,0)"},
          {"offset": 0.896, "color": "rgba(0,0,0,0)"}, {"offset": 0.898, "color": "rgba(0,0,0,1)"}, {"offset": 0.9, "color": "rgba(0,0,0,0)"},
          {"offset": 0.91, "color": "rgba(0,0,0,0)"}, {"offset": 0.912, "color": "rgba(0,0,0,1)"}, {"offset": 0.914, "color": "rgba(0,0,0,0)"},
          {"offset": 0.924, "color": "rgba(0,0,0,0)"}, {"offset": 0.926, "color": "rgba(0,0,0,1)"}, {"offset": 0.928, "color": "rgba(0,0,0,0)"},
          {"offset": 0.938, "color": "rgba(0,0,0,0)"}, {"offset": 0.94, "color": "rgba(0,0,0,1)"}, {"offset": 0.942, "color": "rgba(0,0,0,0)"},
          {"offset": 0.952, "color": "rgba(0,0,0,0)"}, {"offset": 0.954, "color": "rgba(0,0,0,1)"}, {"offset": 0.956, "color": "rgba(0,0,0,0)"},
          {"offset": 0.966, "color": "rgba(0,0,0,0)"}, {"offset": 0.968, "color": "rgba(0,0,0,1)"}, {"offset": 0.97, "color": "rgba(0,0,0,0)"},
          {"offset": 0.98, "color": "rgba(0,0,0,0)"}, {"offset": 0.982, "color": "rgba(0,0,0,1)"}, {"offset": 0.984, "color": "rgba(0,0,0,0)"},
          {"offset": 0.994, "color": "rgba(0,0,0,0)"}, {"offset": 0.996, "color": "rgba(0,0,0,1)"}, {"offset": 0.998, "color": "rgba(0,0,0,0)"},
          {"offset": 1, "color": "rgba(0,0,0,0)"}
        ]}
      },
      "encoding": {
        "theta": {"field": "pct", "type": "quantitative", "stack": true},
        "order": {"field": "rank", "type": "quantitative"},
        "opacity": {"condition": {"test": "datum.Family === 'Andrenidae'", "value": 1}, "value": 0}
      }
    },
    {
      "mark": {"type": "arc", "outerRadius": 247, "fill": "white", "fillOpacity": 0, "stroke": "#000000", "strokeWidth": 1.6, "xOffset": 91, "yOffset": 20},
      "encoding": {
        "theta": {"field": "pct", "type": "quantitative", "stack": true},
        "order": {"field": "rank", "type": "quantitative"}
      }
    },
    {
      "transform": [{"filter": "datum.rank === 1"}],
      "mark": {"type": "arc", "outerRadius": 247, "fill": "white", "fillOpacity": 0, "stroke": "#000000", "strokeWidth": 2.4, "xOffset": 91, "yOffset": 20},
      "encoding": {}
    },
    {
      "mark": {"type": "arc", "radius": 263, "radius2": 249, "padAngle": 3, "fill": "white", "fillOpacity": 0, "stroke": "#222222", "strokeWidth": 1.2, "xOffset": 91, "yOffset": 20},
      "encoding": {
        "theta": {"field": "pct", "type": "quantitative", "stack": true},
        "order": {"field": "rank", "type": "quantitative"},
        "opacity": {"condition": {"test": "datum.Family === 'Halictidae'", "value": 0}, "value": 1}
      }
    },
    {
      "mark": {
        "type": "text", "radius": 290, "xOffset": 91, "yOffset": 20,
        "font": "Liberation Serif", "fontSize": 27, "color": "#1a1a1a", "baseline": "middle", "align": "center",
        "dx": {"expr": "datum.Family === 'Colletidae' ? 14 : datum.Family === 'Andrenidae' ? 61 : datum.Family === 'Halictidae' ? 52 : datum.Family === 'Melittidae' ? -54 : datum.Family === 'Megachilidae' ? -76 : datum.Family === 'Anthophoridae' ? -79 : -34"},
        "dy": {"expr": "datum.Family === 'Colletidae' ? -42 : datum.Family === 'Andrenidae' ? -5 : datum.Family === 'Halictidae' ? -9 : datum.Family === 'Melittidae' ? 31 : datum.Family === 'Megachilidae' ? -10 : datum.Family === 'Anthophoridae' ? -72 : -48"}
      },
      "encoding": {
        "theta": {"field": "pct", "type": "quantitative", "stack": true},
        "order": {"field": "rank", "type": "quantitative"},
        "text": {"field": "Family"}
      }
    },
    {
      "mark": {
        "type": "text", "radius": 290, "xOffset": 91, "yOffset": 20,
        "font": "Liberation Serif", "fontSize": 27, "color": "#1a1a1a", "baseline": "middle", "align": "center",
        "dx": {"expr": "datum.Family === 'Colletidae' ? 14 : datum.Family === 'Andrenidae' ? 61 : datum.Family === 'Halictidae' ? 52 : datum.Family === 'Melittidae' ? -51 : datum.Family === 'Megachilidae' ? -77 : datum.Family === 'Anthophoridae' ? -78 : -34"},
        "dy": {"expr": "datum.Family === 'Colletidae' ? -6 : datum.Family === 'Andrenidae' ? 31 : datum.Family === 'Halictidae' ? 27 : datum.Family === 'Melittidae' ? 67 : datum.Family === 'Megachilidae' ? 26 : datum.Family === 'Anthophoridae' ? -36 : -12"}
      },
      "encoding": {
        "theta": {"field": "pct", "type": "quantitative", "stack": true},
        "order": {"field": "rank", "type": "quantitative"},
        "text": {"field": "pct", "type": "quantitative", "format": ".2%"}
      }
    }
  ]
}
